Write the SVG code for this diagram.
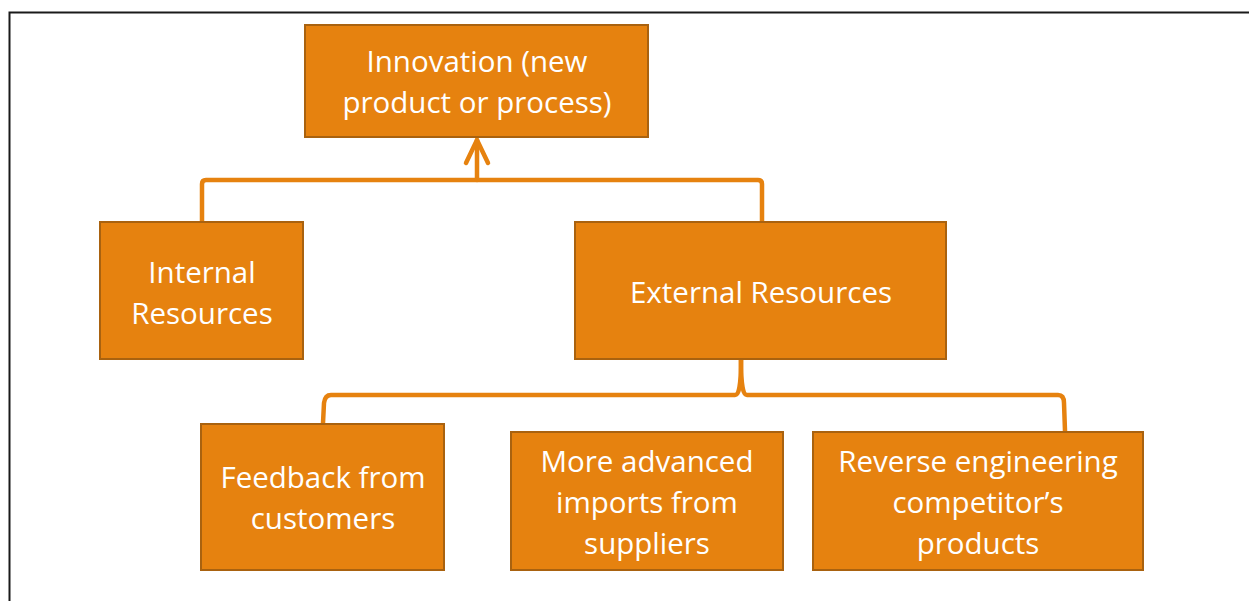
<svg xmlns="http://www.w3.org/2000/svg" width="1249" height="601" viewBox="0 0 1249 601">
<style>
.box{fill:#E6820F;stroke:#A9620F;stroke-width:2}
.t{font-family:"Open Sans","Liberation Sans",sans-serif;font-size:29.5px;fill:#FFFFFF;text-anchor:middle}
.c{fill:none;stroke:#E6820F;stroke-width:4.5;stroke-linejoin:round;stroke-linecap:round}
</style>
<rect x="0" y="0" width="1249" height="601" fill="#FFFFFF"/>
<path d="M9.5 601 V12.5 H1249" fill="none" stroke="#1a1a1a" stroke-width="2"/>
<g id="connectors">
<path class="c" d="M202 221 V184 Q202 180 206 180 H758 Q762 180 762 184 V221"/>
<path class="c" d="M477 180 V140"/>
<path class="c" d="M466 163 L477 140 L488 163"/>
<path class="c" d="M741 360 C741 385 739 395 735 395 H331 Q325 395 324 403 L323 423"/>
<path class="c" d="M741 360 C741 385 743 395 747 395 H1058 Q1064 395 1064 403 L1065 431"/>
</g>
<g id="innovation">
<rect class="box" x="305" y="25" width="343" height="112"/>
<text class="t" x="477" y="72">Innovation (new</text>
<text class="t" x="477" y="113">product or process)</text>
</g>
<g id="internal">
<rect class="box" x="100" y="222" width="203" height="137"/>
<text class="t" x="202" y="283">Internal</text>
<text class="t" x="202" y="324">Resources</text>
</g>
<g id="external">
<rect class="box" x="575" y="222" width="371" height="137"/>
<text class="t" x="761" y="303">External Resources</text>
</g>
<g id="feedback">
<rect class="box" x="201" y="424" width="243" height="146"/>
<text class="t" x="323" y="488">Feedback from</text>
<text class="t" x="323" y="529">customers</text>
</g>
<g id="imports">
<rect class="box" x="511" y="432" width="272" height="138"/>
<text class="t" x="647" y="472">More advanced</text>
<text class="t" x="647" y="513">imports from</text>
<text class="t" x="647" y="554">suppliers</text>
</g>
<g id="reverse">
<rect class="box" x="813" y="432" width="330" height="138"/>
<text class="t" x="978" y="472">Reverse engineering</text>
<text class="t" x="978" y="513">competitor’s</text>
<text class="t" x="978" y="554">products</text>
</g>
</svg>
